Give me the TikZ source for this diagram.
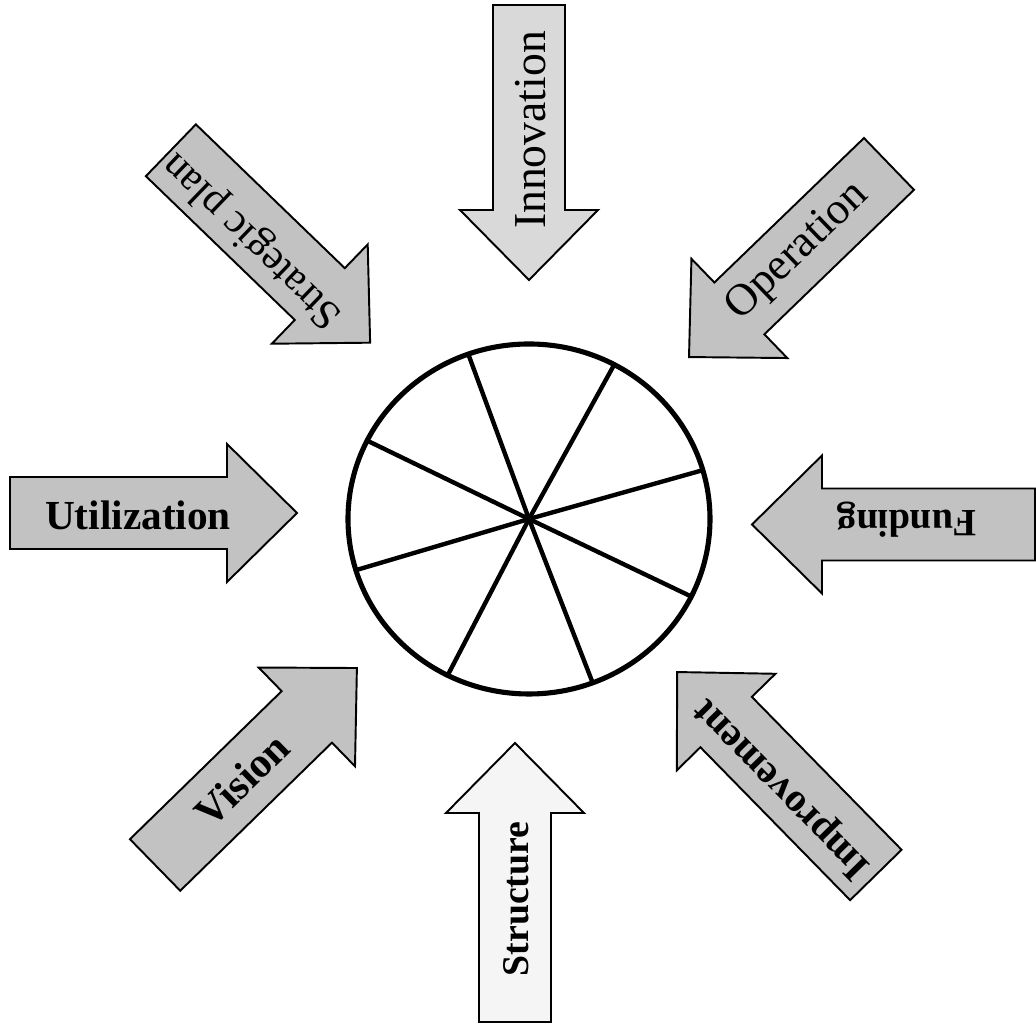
\documentclass[tikz,border=0pt]{standalone}
\usepackage{fontspec}
\setmainfont{Liberation Serif}
\definecolor{shadeA}{gray}{0.76}
\definecolor{shadeB}{gray}{0.85}
\definecolor{shadeC}{gray}{0.96}
\newcommand\blockarrow[5]{% centre x, centre y, angle, length, fill
  \begin{scope}[shift={(#1,#2)}, rotate=#3]
    \path[blk, fill=#5] ({-#4/2},-36) -- ({#4/2-70},-36) -- ({#4/2-70},-69) -- ({#4/2},0)
      -- ({#4/2-70},69) -- ({#4/2-70},36) -- ({-#4/2},36) -- cycle;
  \end{scope}}
\begin{document}
\begin{tikzpicture}[x=0.02cm, y=0.02cm,
  blk/.style={draw=black, line width=1.1pt, line join=miter},
  lbl/.style={inner sep=0pt, anchor=center},
  rim/.style={draw=black, line width=2.9pt},
  spoke/.style={draw=black, line width=2.5pt, line cap=round}]
\useasboundingbox (0,0) rectangle (1036,1031);

% block arrows
\blockarrow{529}{888.5}{-90}{275}{shadeB}
\blockarrow{515}{148.5}{90}{279}{shadeC}
\blockarrow{153.5}{518}{0}{287}{shadeA}
\blockarrow{893.5}{506.5}{180}{283}{shadeA}
\blockarrow{270.5}{784.5}{-44}{277}{shadeA}
\blockarrow{789}{770.5}{-136}{278}{shadeA}
\blockarrow{256}{264.5}{44.3}{282}{shadeA}
\blockarrow{776.5}{257.5}{134.4}{284}{shadeA}

% labels
\node[lbl, rotate=90, font=\fontsize{26}{26}\selectfont] (innov) at (531,901) {Innovation};
\node[lbl, rotate=90, font=\bfseries\fontsize{21.5}{22}\selectfont] (struct) at (516,132) {Structure};
\node[lbl, font=\bfseries\fontsize{23.5}{24}\selectfont] (util) at (138,516) {Utilization};
\node[lbl, rotate=180, font=\bfseries\fontsize{22}{22}\selectfont] (fund) at (907,511) {Funding};
\node[lbl, rotate=136, font=\fontsize{24}{24}\selectfont] (strat) at (253,791) {Strategic plan};
\node[lbl, rotate=44, font=\fontsize{25.5}{26}\selectfont] (oper) at (798,779) {Operation};
\node[lbl, rotate=44.3, font=\bfseries\fontsize{24}{24}\selectfont] (vis) at (242,251) {Vision};
\node[lbl, rotate=134.4, font=\bfseries\fontsize{23}{23}\selectfont] (impr) at (783,243) {Improvement};

% wheel
\coordinate (hub) at (529,512);
\path[rim] (hub) ellipse [x radius=181, y radius=175];
\foreach \a in {109.6, 61.9, 16.2, -26.3, -69.4, -116.7, 197, 153.4}
  \path[spoke] (hub) -- +(\a:181 and 175);
\end{tikzpicture}
\end{document}
